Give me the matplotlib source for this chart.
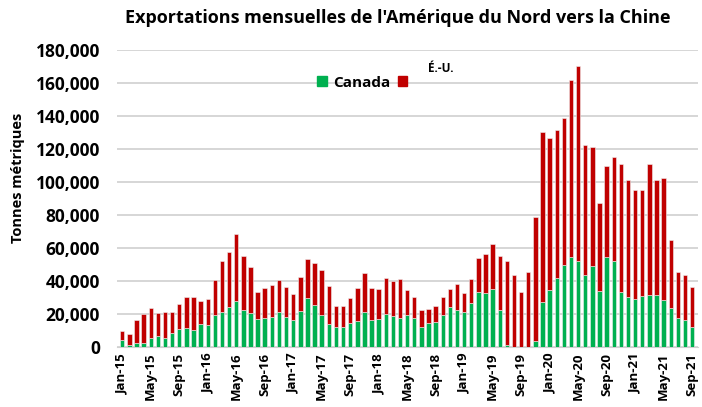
import numpy as np
import matplotlib.pyplot as plt
from matplotlib.patches import Patch

# monthly values, thousands of tonnes, Jan-15 .. Sep-21
canada = [4.6, 1.4, 2.4, 2.8, 5.4, 7.1, 5.9, 8.7, 11.1, 11.5, 10.7, 14.3,
          13.3, 19.8, 21.4, 24.2, 27.8, 22.6, 20.8, 16.9, 18.0, 18.6, 21.2, 18.2,
          16.7, 22.2, 30.1, 25.6, 19.4, 14.3, 12.1, 12.1, 14.9, 15.9, 21.4, 16.7,
          17.2, 20.2, 19.2, 18.0, 19.6, 17.6, 12.1, 14.5, 15.3, 19.4, 24.2, 22.8,
          21.2, 26.6, 33.5, 32.7, 35.1, 22.8, 1.4, 0.0, 0.0, 0.0, 3.8, 27.2,
          34.9, 42.0, 49.8, 54.7, 52.1, 43.8, 49.4, 34.3, 54.7, 52.3, 33.3, 30.7,
          29.3, 31.3, 31.7, 31.9, 28.7, 24.0, 18.0, 16.5, 12.5]
total = [9.9, 7.9, 16.7, 20.2, 23.6, 20.8, 21.6, 21.6, 26.0, 30.3, 30.5, 28.2,
         29.5, 40.8, 52.5, 57.7, 68.6, 55.1, 48.4, 33.7, 35.7, 37.7, 40.8, 36.3,
         32.3, 42.6, 53.5, 51.3, 47.0, 36.9, 25.0, 25.2, 29.7, 35.9, 45.0, 35.9,
         35.1, 42.2, 40.4, 41.4, 34.7, 30.7, 22.6, 23.0, 25.2, 30.5, 35.5, 38.3,
         32.9, 41.4, 54.1, 56.7, 62.6, 55.3, 52.5, 44.0, 33.5, 45.8, 78.7, 130.3,
         126.7, 131.8, 138.6, 162.0, 170.5, 122.7, 121.5, 87.4, 109.6, 115.4, 111.2, 101.5,
         95.0, 95.2, 110.8, 101.1, 102.7, 65.2, 45.4, 43.6, 36.5]
months = ["Jan", "Feb", "Mar", "Apr", "May", "Jun", "Jul", "Aug", "Sep", "Oct", "Nov", "Dec"]
labels = [f"{months[i % 12]}-{15 + i // 12}" for i in range(len(total))]

GREEN = "#00B050"
RED = "#C00000"
FONT = "Open Sans"

canada = np.array(canada) * 1000
usa = np.array(total) * 1000 - canada
x = np.arange(len(canada))

fig = plt.figure(figsize=(7.02, 4.07), dpi=100)
ax = fig.add_axes([0.166, 0.1467, 0.828, 0.7305])

ax.bar(x, canada, width=0.62, color=GREEN, edgecolor="#f0f0f0", linewidth=0.4, zorder=3)
ax.bar(x, usa, width=0.62, bottom=canada, color=RED, edgecolor="#f0f0f0", linewidth=0.4, zorder=3)

ax.set_xlim(-0.8, len(x) - 0.2)
ax.set_ylim(0, 180000)
ax.set_yticks(np.arange(0, 180001, 20000))
ax.set_yticklabels([f"{v:,}" for v in range(0, 180001, 20000)],
                   fontsize=12.5, fontweight="bold", family=FONT)
ax.set_xticks(x[::4])
ax.set_xticklabels(labels[::4], rotation=90, fontsize=9.5, fontweight="bold", family=FONT)
ax.tick_params(axis="x", length=0, pad=4)
ax.tick_params(axis="y", length=0, pad=12)
ax.grid(axis="y", color="#d0d0d0", linewidth=1.2, zorder=0)
for s in ["top", "right", "left"]:
    ax.spines[s].set_visible(False)
ax.spines["bottom"].set_color("#d0d0d0")

fig.text(18 / 702, 1 - 178 / 407, "Tonnes métriques", rotation=90, ha="center", va="center",
         fontsize=10.5, fontweight="bold", family=FONT)
fig.text(398 / 702, 1 - 18 / 407, "Exportations mensuelles de l'Amérique du Nord vers la Chine",
         ha="center", va="center", fontsize=13, fontweight="bold", family=FONT)

handles = [Patch(color=GREEN, label="Canada"), Patch(color=RED, label=" ")]
leg = ax.legend(handles=handles, loc="upper left", bbox_to_anchor=(0.322, 0.96), ncol=2,
                frameon=False, prop={"family": FONT, "weight": "bold", "size": 11},
                handlelength=0.6, handleheight=0.6, columnspacing=0.5, handletextpad=0.4)
fig.text(428 / 702, 1 - 69 / 407, "É.-U.", ha="left", va="center",
         fontsize=8.5, fontweight="bold", family=FONT)

fig.savefig("out.png", dpi=100)
